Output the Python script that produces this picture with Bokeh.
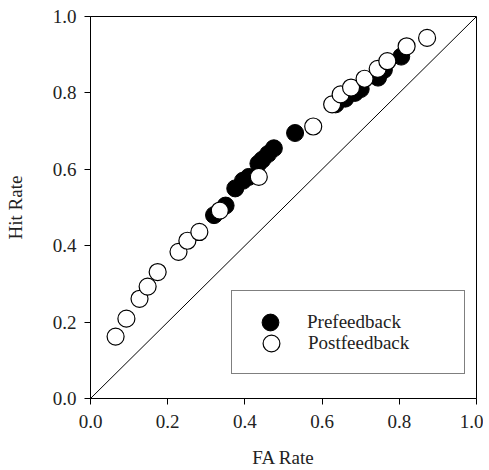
from bokeh.plotting import figure
from bokeh.models import Legend, LegendItem, Range1d, FixedTicker, Slope, CustomJSTickFormatter
from bokeh.embed import file_html
from bokeh.resources import INLINE

pre_fa = [0.32, 0.35, 0.375, 0.395, 0.41, 0.435, 0.445, 0.46, 0.475, 0.53,
          0.635, 0.66, 0.685, 0.70, 0.745, 0.76, 0.805]
pre_hit = [0.48, 0.505, 0.55, 0.57, 0.58, 0.615, 0.625, 0.64, 0.655, 0.695,
           0.77, 0.785, 0.80, 0.81, 0.84, 0.86, 0.895]

post_fa = [0.065, 0.093, 0.127, 0.148, 0.174, 0.228, 0.251, 0.282, 0.335, 0.436,
           0.577, 0.626, 0.648, 0.675, 0.71, 0.744, 0.769, 0.819, 0.872]
post_hit = [0.162, 0.209, 0.261, 0.293, 0.331, 0.384, 0.413, 0.436, 0.492, 0.580,
            0.712, 0.770, 0.796, 0.814, 0.837, 0.863, 0.883, 0.922, 0.944]

ticks = [0.0, 0.2, 0.4, 0.6, 0.8, 1.0]
FONT = "Liberation Serif"
TXT = "#222222"

p = figure(width=483, height=470, output_backend="svg", toolbar_location=None,
           x_range=Range1d(0, 1), y_range=Range1d(0, 1),
           min_border_left=90, min_border_right=7, min_border_top=16, min_border_bottom=70)
p.grid.visible = False
p.outline_line_color = "black"
p.outline_line_width = 1

fmt = CustomJSTickFormatter(code="return tick.toFixed(1)")
for ax in (p.xaxis[0], p.yaxis[0]):
    ax.ticker = FixedTicker(ticks=ticks)
    ax.formatter = fmt
    ax.minor_tick_line_color = None
    ax.major_tick_in = 0
    ax.major_tick_out = 6
    ax.axis_line_color = "black"
    ax.major_tick_line_color = "black"
    ax.major_label_text_font = FONT
    ax.major_label_text_font_size = "19px"
    ax.major_label_text_color = TXT
    ax.axis_label_text_font = FONT
    ax.axis_label_text_font_size = "19px"
    ax.axis_label_text_font_style = "normal"
    ax.axis_label_text_color = TXT

p.xaxis[0].axis_label = "FA Rate"
p.yaxis[0].axis_label = "Hit Rate"
p.xaxis[0].major_label_standoff = 10
p.yaxis[0].major_label_standoff = 8
p.xaxis[0].axis_label_standoff = 16
p.yaxis[0].axis_label_standoff = 24

p.add_layout(Slope(gradient=1, y_intercept=0, line_color="black", line_width=1))

r_pre = p.scatter(pre_fa, pre_hit, size=17, marker="circle",
                  fill_color="black", line_color="black", line_width=1)
r_post = p.scatter(post_fa, post_hit, size=17, marker="circle",
                   fill_color="white", line_color="black", line_width=1.2)

common = dict(orientation="vertical", padding=9, spacing=0, margin=0,
              glyph_width=60, glyph_height=42, label_height=42,
              label_standoff=7, label_width=147,
              label_text_font=FONT, label_text_font_size="19px",
              label_text_color=TXT)

# boxed legend holding the lower item; a blank title pushes it down
leg_a = Legend(items=[LegendItem(label="Postfeedback", renderers=[r_post])],
               location=(141, 24), title=" ", title_text_font_size="15px",
               title_standoff=5,
               border_line_color="black", border_line_width=1,
               background_fill_color="white", background_fill_alpha=1,
               **common)
# borderless legend holding the upper item
leg_b = Legend(items=[LegendItem(label="Prefeedback", renderers=[r_pre])],
               location=(150, 55), border_line_color=None,
               background_fill_alpha=0, **common)
p.add_layout(leg_a, "center")
p.add_layout(leg_b, "center")

open("out.html", "w").write(file_html(p, INLINE))
